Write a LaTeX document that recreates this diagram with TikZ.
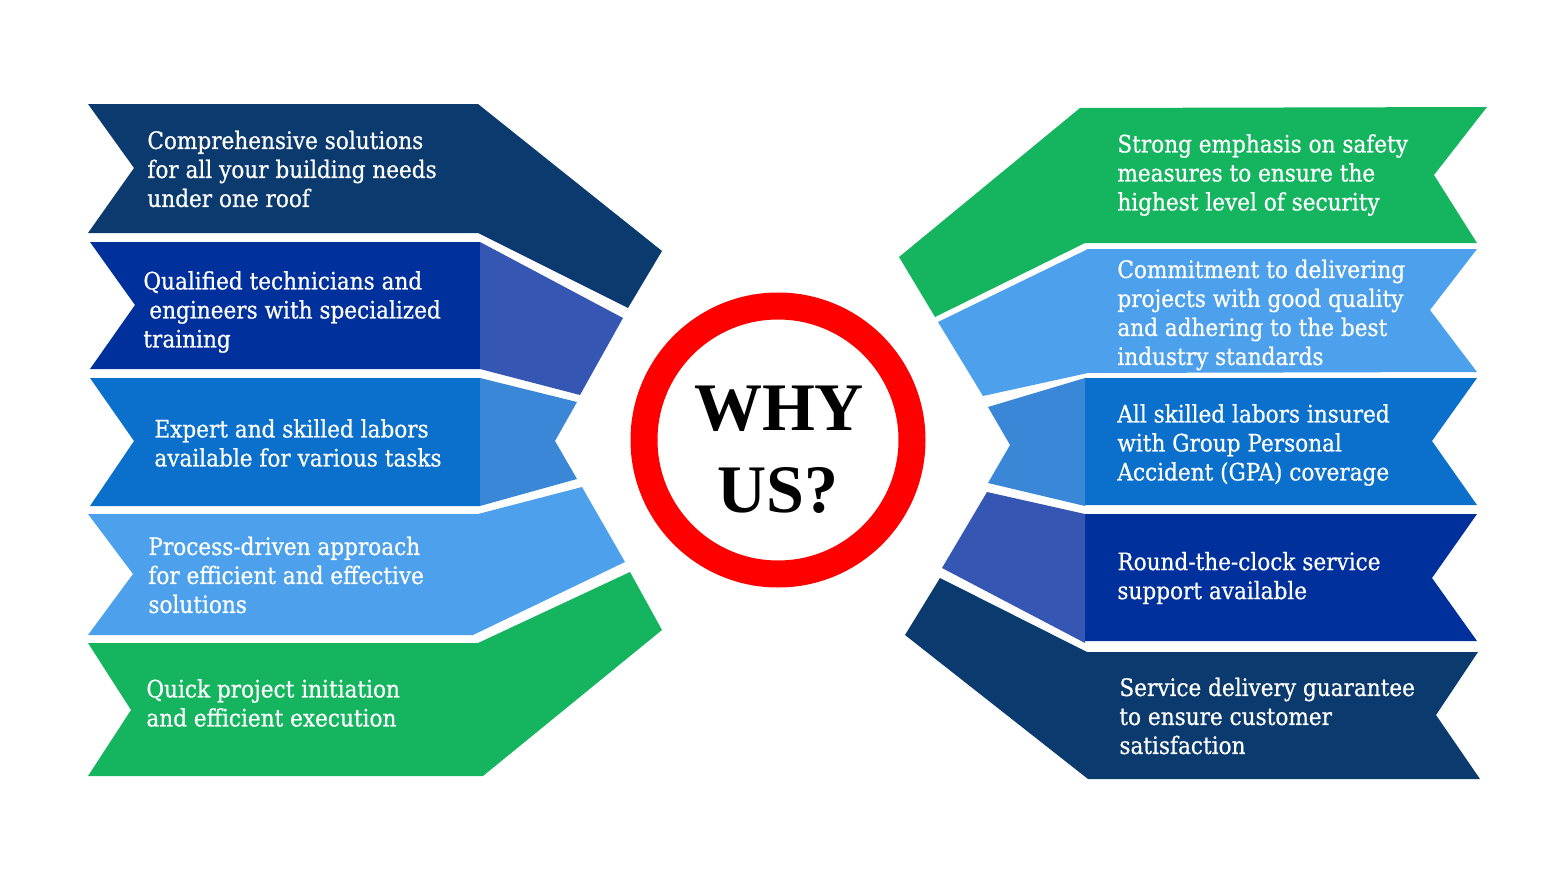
\documentclass[tikz,border=0pt]{standalone}
\usepackage{fontspec}
\setmainfont{DejaVu Serif}[FakeStretch=0.9,FakeBold=0.6]
\newfontfamily\whyfont{Liberation Serif}
\usepackage{tikz}
\definecolor{navy}{RGB}{11,58,110}
\definecolor{royal}{RGB}{0,48,155}
\definecolor{royallt}{RGB}{54,86,180}
\definecolor{midblue}{RGB}{11,112,204}
\definecolor{midbluelt}{RGB}{58,135,216}
\definecolor{skyblue}{RGB}{77,161,236}
\definecolor{leaf}{RGB}{21,181,95}
\definecolor{ringred}{RGB}{255,0,0}
\pgfdeclareradialshading{glow}{\pgfpoint{0bp}{0bp}}{color(0bp)=(white); color(30bp)=(white); color(50bp)=(gray!45)}

\begin{document}
\begin{tikzpicture}[x=0.5pt,y=-0.5pt,
    txt/.style={text=white,anchor=west,align=left,inner sep=0pt,
      font=\fontsize{12}{14.5}\selectfont},
    big/.style={anchor=base,inner sep=0pt,
      font=\whyfont\bfseries\fontsize{34}{34}\selectfont}]
      \useasboundingbox (0,0) rectangle (1560,878) ;
      % left side
      \fill[navy] (88,104)--(478,104)--(662,251)--(628,308)--(478,233)--(88,233)--(134,168)--cycle ;
      \fill[royal] (90,242)--(480,242)--(480,369)--(90,369)--(135,305)--cycle ;
      \fill[royallt] (480,242)--(623,318)--(580,395)--(480,369)--cycle ;
      \fill[midblue] (90,378)--(480,378)--(480,506)--(90,506)--(134,441)--cycle ;
      \fill[midbluelt] (480,378)--(577,402)--(555,441)--(577,479)--(480,506)--cycle ;
      \fill[skyblue] (88,514)--(478,514)--(582,487)--(625,562)--(473,635)--(88,635)--(133,574)--cycle ;
      \fill[leaf] (88,643)--(478,643)--(630,572)--(662,630)--(483,776)--(88,776)--(131,710)--cycle ;
      % right side
      \fill[leaf] (899,257)--(1080,108)--(1487,107)--(1434,175)--(1477,243)--(1085,243)--(935,317)--cycle ;
      \fill[skyblue] (938,322)--(1088,249)--(1477,249)--(1430,310)--(1477,372)--(1088,373)--(983,396)--cycle ;
      \fill[midblue] (1085,378)--(1477,378)--(1432,441)--(1477,505)--(1085,505)--cycle ;
      \fill[midbluelt] (1085,378)--(988,407)--(1010,445)--(988,483)--(1085,506)--cycle ;
      \fill[royal] (1085,514)--(1477,514)--(1432,578)--(1477,641)--(1085,641)--cycle ;
      \fill[royallt] (1085,514)--(987,492)--(942,568)--(1085,643)--cycle ;
      \fill[navy] (940,578)--(1087,652)--(1478,652)--(1436,715)--(1480,779)--(1088,779)--(905,635)--cycle ;
      % centre
      \fill[white] (778,440) circle (121) ;
      \begin{scope}
        \clip (778,440) circle (121) ;
        \shade[shading=glow] (756,462) circle (150) ;
      \end{scope}
      \draw[ringred,line width=13.5pt] (778,440) circle (134) ;
      \node[big] (why) at (779,430) {WHY} ;
      \node[big] (us) at (778,512) {US?} ;
      % texts
      \node[txt] (L1) at (147,169) {Comprehensive solutions\\for all your building needs\\under one roof} ;
      \node[txt] (L2) at (143,312) {Qualified technicians and\\\hspace{3pt}engineers with specialized\\training} ;
      \node[txt] (L3) at (154,443) {Expert and skilled labors\\available for various tasks} ;
      \node[txt] (L4) at (148,575) {Process-driven approach\\for efficient and effective\\solutions} ;
      \node[txt] (L5) at (146,703) {Quick project initiation\\and efficient execution} ;
      \node[txt] (R1) at (1117,175) {Strong emphasis on safety\\measures to ensure the\\highest level of security} ;
      \node[txt] (R2) at (1117,315) {Commitment to delivering\\projects with good quality\\and adhering to the best\\industry standards} ;
      \node[txt] (R3) at (1117,445) {All skilled labors insured\\with Group Personal\\Accident (GPA) coverage} ;
      \node[txt] (R4) at (1117,578) {Round-the-clock service\\support available} ;
      \node[txt] (R5) at (1119,716) {Service delivery guarantee\\to ensure customer\\satisfaction} ;
\end{tikzpicture}
\end{document}
